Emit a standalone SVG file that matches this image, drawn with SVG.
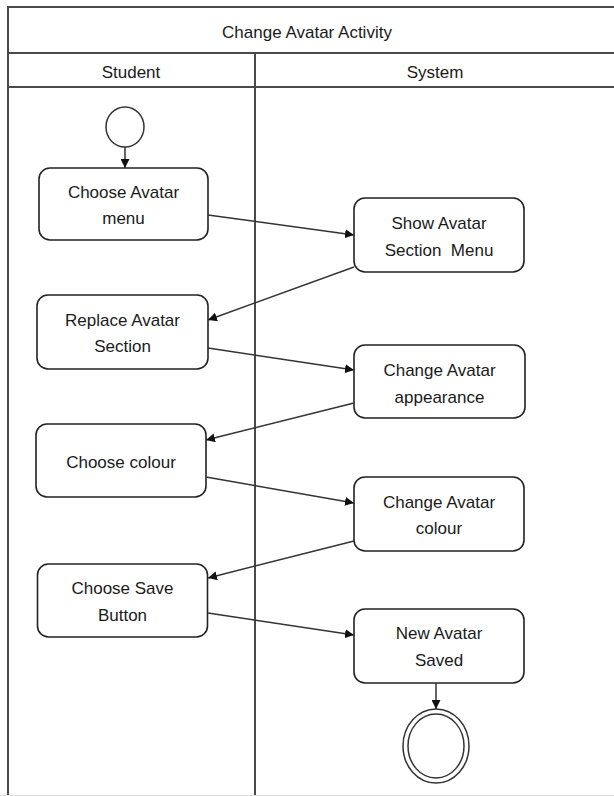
<svg xmlns="http://www.w3.org/2000/svg" width="614" height="796" viewBox="0 0 614 796">
<style>
.frame{fill:none;stroke:#4a4a4a;stroke-width:2}
.node{fill:#fff;stroke:#222;stroke-width:1.6}
.t{font-family:"Liberation Sans",Arial,sans-serif;font-size:17px;fill:#1a1a1a;text-anchor:middle}
.c{fill:none;stroke:#333;stroke-width:1.5;marker-end:url(#ah)}
</style>
<defs>
<marker id="ah" viewBox="0 0 10 10" refX="10" refY="5" markerWidth="9" markerHeight="9" markerUnits="userSpaceOnUse" orient="auto">
<path d="M0,0 L10,5 L0,10 z" fill="#111"/>
</marker>
</defs>
<rect width="614" height="796" fill="#fff"/>
<g id="swimlanes">
<rect class="frame" x="8" y="7" width="612" height="800"/>
<line class="frame" x1="8" y1="53" x2="614" y2="53"/>
<line class="frame" x1="8" y1="87" x2="614" y2="87"/>
<line class="frame" x1="255" y1="53" x2="255" y2="796"/>
<line x1="0" y1="795.5" x2="614" y2="795.5" stroke="#ddd" stroke-width="1"/>
<text class="t" x="307" y="38">Change Avatar Activity</text>
<text class="t" x="131" y="78">Student</text>
<text class="t" x="435" y="78">System</text>
</g>
<g id="start"><ellipse cx="125" cy="127" rx="19" ry="20" fill="#fff" stroke="#333" stroke-width="1.5"/></g>
<g id="n1"><rect class="node" x="39" y="168" width="169" height="72" rx="11"/><text class="t" x="123.5" y="198">Choose Avatar</text><text class="t" x="123.5" y="224">menu</text></g>
<g id="n2"><rect class="node" x="354" y="198" width="170" height="74" rx="11"/><text class="t" x="439" y="229">Show Avatar</text><text class="t" x="439" y="256" xml:space="preserve" style="white-space:pre">Section  Menu</text></g>
<g id="n3"><rect class="node" x="37" y="295" width="171" height="74" rx="11"/><text class="t" x="122.5" y="326">Replace Avatar</text><text class="t" x="122.5" y="352">Section</text></g>
<g id="n4"><rect class="node" x="354" y="345" width="171" height="73" rx="11"/><text class="t" x="439.5" y="376">Change Avatar</text><text class="t" x="439.5" y="403">appearance</text></g>
<g id="n5"><rect class="node" x="36" y="424" width="170" height="73" rx="11"/><text class="t" x="121" y="468">Choose colour</text></g>
<g id="n6"><rect class="node" x="354" y="477" width="170" height="74" rx="11"/><text class="t" x="439" y="508">Change Avatar</text><text class="t" x="439" y="534">colour</text></g>
<g id="n7"><rect class="node" x="37.5" y="564" width="170" height="73" rx="11"/><text class="t" x="122.5" y="594">Choose Save</text><text class="t" x="122.5" y="621">Button</text></g>
<g id="n8"><rect class="node" x="354" y="609" width="170" height="74" rx="11"/><text class="t" x="439" y="639">New Avatar</text><text class="t" x="439" y="666">Saved</text></g>
<g id="end"><ellipse cx="436" cy="746" rx="33" ry="37" fill="#fff" stroke="#333" stroke-width="1.5"/><ellipse cx="436" cy="746" rx="28" ry="32" fill="#fff" stroke="#333" stroke-width="1.5"/></g>
<g id="connectors">
<path class="c" d="M125,147 L125,168"/>
<path class="c" d="M208,215 L354,235"/>
<path class="c" d="M354,267 L208,320"/>
<path class="c" d="M208,348 L354,370"/>
<path class="c" d="M354,403 L206,440"/>
<path class="c" d="M206,477 L354,503"/>
<path class="c" d="M354,541 L208,578"/>
<path class="c" d="M208,613 L354,635"/>
<path class="c" d="M436,683 L436,709"/>
</g>
</svg>
